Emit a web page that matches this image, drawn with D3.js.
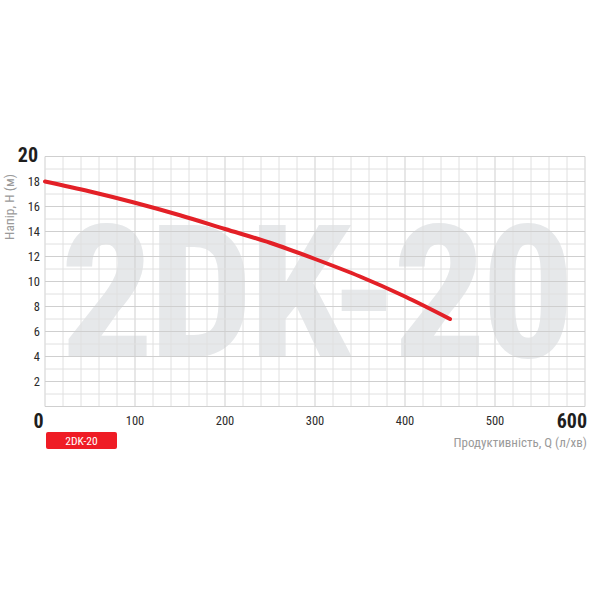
<!DOCTYPE html>
<html><head><meta charset="utf-8">
<script src="https://cdn.jsdelivr.net/npm/d3@7/dist/d3.min.js"></script>
<style>
body{margin:0;background:#fff;}
svg text{font-family:"Roboto Condensed","Liberation Sans Narrow","DejaVu Sans Condensed","Roboto",sans-serif;}
</style></head>
<body><svg id="c" width="600" height="600"></svg>
<script>
const flowQ = [0, 50, 100, 150, 200, 250, 300, 350, 400, 450];
const headH = [18, 17.2, 16.3, 15.3, 14.2, 13.1, 11.8, 10.4, 8.8, 7.0];
const xTicks = [100, 200, 300, 400, 500];
const yTicks = [2, 4, 6, 8, 10, 12, 14, 16, 18];
const modelName = "2DK-20";
const xTitle = "Продуктивність, Q (л/хв)";
const yTitle = "Напір, Н (м)";

const svg = d3.select("#c");
const x = d3.scaleLinear().domain([0, 600]).range([45, 585]);
const y = d3.scaleLinear().domain([0, 20]).range([406.5, 156.5]);

// watermark
svg.append("text").attr("x", 60).attr("y", 357)
  .attr("textLength", 515).attr("lengthAdjust", "spacing")
  .attr("font-size", 186).attr("font-weight", "bold")
  .attr("fill", "#e6e8ea").text(modelName);

// grid
const g = svg.append("g");
d3.range(0, 601, 20).forEach(v => {
  g.append("line").attr("x1", x(v)).attr("x2", x(v)).attr("y1", y(0)).attr("y2", y(20))
   .attr("stroke", v % 100 === 0 ? "#cfcfcf" : "#e0e0e0").attr("stroke-width", 1);
});
d3.range(0, 21, 1).forEach(v => {
  g.append("line").attr("y1", y(v)).attr("y2", y(v)).attr("x1", x(0)).attr("x2", x(600))
   .attr("stroke", v % 2 === 0 ? "#cfcfcf" : "#e0e0e0").attr("stroke-width", 1);
});

// curve
const line = d3.line().x((d, i) => x(flowQ[i])).y(d => y(d)).curve(d3.curveMonotoneX);
svg.append("path").datum(headH).attr("d", line).attr("fill", "none")
  .attr("stroke", "#e32027").attr("stroke-width", 4).attr("stroke-linecap", "round");

// y ticks
svg.selectAll(".yt").data(yTicks).enter().append("text")
  .attr("x", 40).attr("y", d => y(d) + 4.5).attr("text-anchor", "end")
  .attr("font-size", 12.5).attr("fill", "#2b2b2b").text(d => d);
svg.append("text").attr("x", 38).attr("y", 162).attr("text-anchor", "end")
  .attr("font-size", 20).attr("font-weight", "bold").attr("fill", "#1e1e1e").text("20");

// x ticks
svg.selectAll(".xt").data(xTicks).enter().append("text")
  .attr("x", d => x(d)).attr("y", 425).attr("text-anchor", "middle")
  .attr("font-size", 12.5).attr("fill", "#2b2b2b").text(d => d);
svg.append("text").attr("x", 38.5).attr("y", 428).attr("text-anchor", "middle")
  .attr("font-size", 20).attr("font-weight", "bold").attr("fill", "#1e1e1e").text("0");
svg.append("text").attr("x", 587).attr("y", 428).attr("text-anchor", "end")
  .attr("font-size", 20).attr("font-weight", "bold").attr("fill", "#1e1e1e").text("600");

// titles
svg.append("text").attr("x", 587).attr("y", 447).attr("text-anchor", "end")
  .attr("font-size", 13).attr("fill", "#9a9a9a").text(xTitle);
svg.append("text").attr("transform", "translate(14,207) rotate(-90)").attr("text-anchor", "middle")
  .attr("font-size", 13.5).attr("fill", "#9a9a9a").text(yTitle);

// legend badge
svg.append("rect").attr("x", 46).attr("y", 432).attr("width", 71).attr("height", 17)
  .attr("rx", 2).attr("fill", "#ef1c25");
svg.append("text").attr("x", 81.5).attr("y", 444.5).attr("text-anchor", "middle")
  .attr("font-size", 11.5).attr("fill", "#fff").text(modelName);
</script></body></html>
